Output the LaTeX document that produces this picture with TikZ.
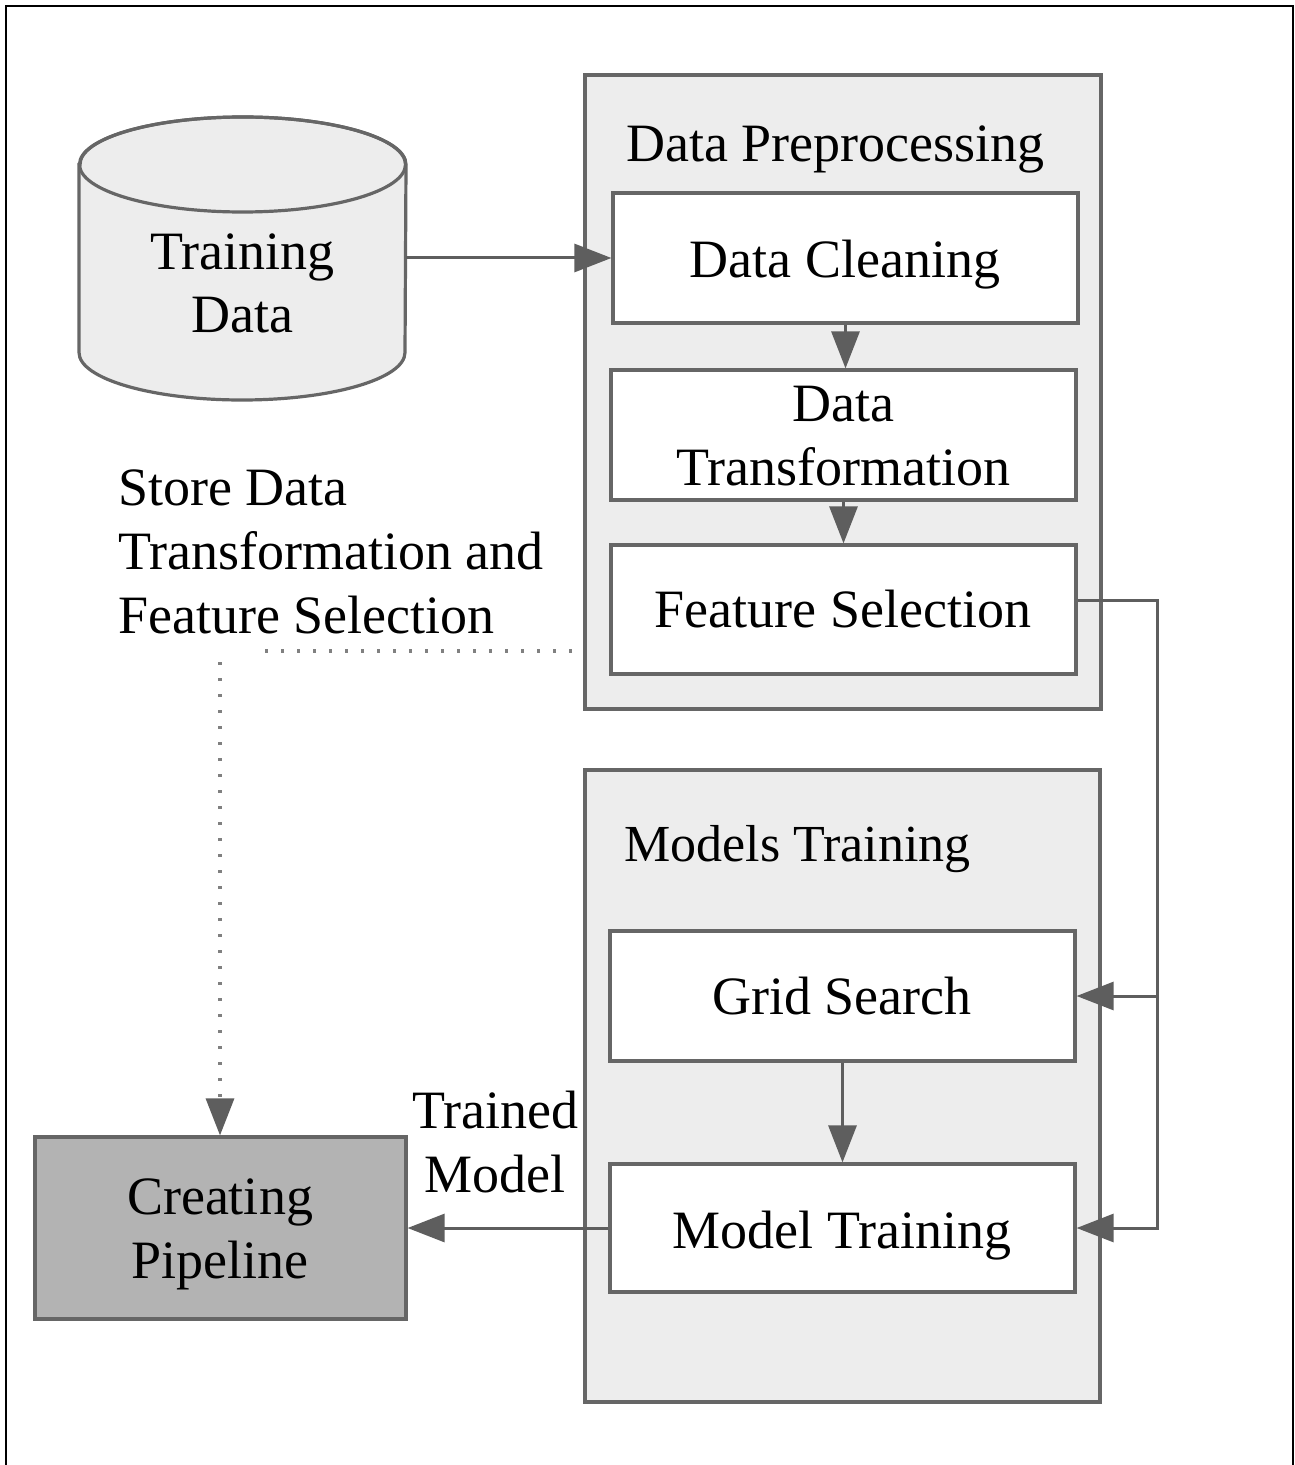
\documentclass[tikz,border=0pt]{standalone}
\usepackage{fontspec}
\setmainfont{Liberation Serif}
\usetikzlibrary{arrows.meta,fit}
\definecolor{edge}{HTML}{666666}
\definecolor{wire}{HTML}{5E5E5E}
\definecolor{panel}{HTML}{EDEDED}
\definecolor{sink}{HTML}{B3B3B3}
\definecolor{dots}{HTML}{808080}
\begin{document}
\begin{tikzpicture}[x=0.5pt,y=-0.5pt,
  font=\fontsize{27pt}{32pt}\selectfont,
  box/.style={draw=edge,line width=1.6pt,fill=white,inner sep=0pt,rectangle},
  cont/.style={draw=edge,line width=1.6pt,fill=panel,inner sep=0pt,rectangle},
  txt/.style={inner sep=0pt,anchor=base,align=center},
  head/.style={inner sep=0pt,anchor=base west},
  wireline/.style={draw=wire,line width=1.5pt},
  arr/.style={wireline,-{Triangle[length=18.5pt,width=14pt]}},
  dotline/.style={draw=dots,line width=1.6pt,dash pattern=on 1.6pt off 6.4pt},
  dotarr/.style={dotline,-{Triangle[length=18.5pt,width=14pt,color=wire]}}]
\useasboundingbox (0,0) rectangle (1294,1465);
\fill[white] (0,0) rectangle (1294,1465);
% outer frame
\draw[black,line width=0.8pt] (6,1470) -- (6,6) -- (1293,6) -- (1293,1470);

% training data store (cylinder)
\filldraw[draw=edge,fill=panel,line width=1.6pt]
  (79,164.5) -- (79,352.5)
  arc[start angle=180,end angle=360,x radius=81.5pt,y radius=23.75pt]
  -- (406,164.5)
  arc[start angle=0,end angle=180,x radius=81.5pt,y radius=23.75pt] -- cycle;
\draw[draw=edge,line width=1.6pt] (242.5,164.5) ellipse [x radius=81.5pt,y radius=23.75pt];
\node[inner sep=0pt,fit={(79,117) (406,400)}] (td) {};
\node[txt] (tdT) at (242.5,333) {Training\\Data};

% data preprocessing group
\node[cont,fit={(585,75) (1101,709)}] (dp) {};
\node[head] (dpT) at (626,162) {Data Preprocessing};
\node[box,fit={(613,193) (1078,323)}] (dc) {};
\node[txt] (dcT) at (845,278) {Data Cleaning};
\node[box,fit={(611,370) (1076,500)}] (dtr) {};
\node[txt] (dtrT) at (843,485) {Data\\Transformation};
\node[box,fit={(611,545) (1076,674)}] (fs) {};
\node[txt] (fsT) at (843,627) {Feature Selection};

% models training group
\node[cont,fit={(585,770) (1100,1402)}] (mtc) {};
\node[head,font=\fontsize{26pt}{32pt}\selectfont] (mtcT) at (624,861) {Models Training};
\node[box,fit={(610,931) (1075,1061)}] (gs) {};
\node[txt] (gsT) at (842,1014) {Grid Search};
\node[box,fit={(610,1164) (1075,1292)}] (mt) {};
\node[txt] (mtT) at (842,1248) {Model Training};

% pipeline creation
\node[draw=edge,line width=1.6pt,fill=sink,inner sep=0pt,fit={(35,1137) (406,1319)}] (cp) {};
\node[txt] (cpT) at (220,1278) {Creating\\Pipeline};

% free-standing labels
\node[txt] (tm) at (495,1192) {Trained\\Model};
\node[inner sep=0pt,anchor=base west,align=left] (store) at (118,633)
  {Store Data\\Transformation and\\Feature Selection};

% connectors
\coordinate (rail) at (1157,1228);
\coordinate (dotstart) at (572,651);
\coordinate (dotend) at (260,651);
\coordinate (dotdrop) at (220,662);
\draw[arr] (dc.west -| td.east) -- (dc.west);
\draw[arr] (dc.south) -- (dc.south |- dtr.north);
\draw[arr] (dtr.south) -- (dtr.south |- fs.north);
\draw[arr] ([yshift=4.5pt]fs.east) -| (rail) -- (mt.east);
\draw[arr] (gs.east -| rail) -- (gs.east);
\draw[arr] (gs.south) -- (gs.south |- mt.north);
\draw[arr] (mt.west) -- (cp.east);
\draw[dotline] (dotstart) -- (dotend);
\draw[dotarr] (dotdrop) -- (dotdrop |- cp.north);
\end{tikzpicture}
\end{document}
